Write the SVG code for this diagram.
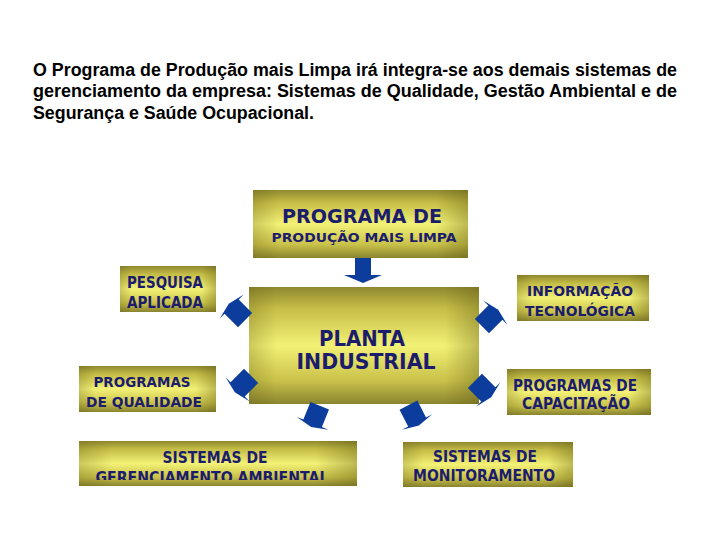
<svg xmlns="http://www.w3.org/2000/svg" width="720" height="540" viewBox="0 0 720 540">
<defs>
<linearGradient id="gv" x1="0" y1="0" x2="0" y2="1">
<stop offset="0" stop-color="#8f8830"/>
<stop offset="0.18" stop-color="#c4bd46"/>
<stop offset="0.5" stop-color="#f3f176"/>
<stop offset="0.8" stop-color="#c9c24a"/>
<stop offset="1" stop-color="#8a8430"/>
</linearGradient>
<linearGradient id="gh" x1="0" y1="0" x2="1" y2="0">
<stop offset="0" stop-color="#5a5410" stop-opacity="0.25"/>
<stop offset="0.12" stop-color="#5a5410" stop-opacity="0"/>
<stop offset="0.85" stop-color="#5a5410" stop-opacity="0"/>
<stop offset="1" stop-color="#5a5410" stop-opacity="0.35"/>
</linearGradient>
<path id="arr" d="M-10,-10 L10,-10 L10,9 L17,9 L0,13 L-17,9 L-10,9 Z"/>
<clipPath id="clipAmb"><rect x="79" y="441" width="278" height="39"/></clipPath>
</defs>
<style>
.box{fill:url(#gv)}
.shade{fill:url(#gh)}
.lbl{font-family:"DejaVu Sans",Verdana,sans-serif;font-weight:bold;fill:#1c1c6c;text-anchor:middle}
.title{font-family:"Liberation Sans",Arial,sans-serif;font-weight:bold;font-size:18px;fill:#000}
.ar{fill:#0c3d9c}
</style>
<rect width="720" height="540" fill="#ffffff"/>
<g id="intro">
<text class="title" x="33" y="76" textLength="644" lengthAdjust="spacingAndGlyphs">O Programa de Produção mais Limpa irá integra-se aos demais sistemas de</text>
<text class="title" x="33" y="97" textLength="644" lengthAdjust="spacingAndGlyphs">gerenciamento da empresa: Sistemas de Qualidade, Gestão Ambiental e de</text>
<text class="title" x="33" y="119" textLength="281" lengthAdjust="spacingAndGlyphs">Segurança e Saúde Ocupacional.</text>
</g>
<g id="programa">
<rect class="box" x="253" y="190" width="215" height="68"/>
<rect class="shade" x="253" y="190" width="215" height="68"/>
<text class="lbl" x="362" y="223" font-size="20" textLength="160" lengthAdjust="spacingAndGlyphs">PROGRAMA DE</text>
<text class="lbl" x="364" y="242" font-size="13" textLength="185" lengthAdjust="spacingAndGlyphs">PRODUÇÃO MAIS LIMPA</text>
</g>
<g id="planta">
<rect class="box" x="249" y="287" width="230" height="117"/>
<rect class="shade" x="249" y="287" width="230" height="117"/>
<text class="lbl" x="362" y="346" font-size="21" textLength="86" lengthAdjust="spacingAndGlyphs">PLANTA</text>
<text class="lbl" x="366" y="369" font-size="21" textLength="139" lengthAdjust="spacingAndGlyphs">INDUSTRIAL</text>
</g>
<g id="pesquisa">
<rect class="box" x="120" y="266" width="96" height="46"/>
<rect class="shade" x="120" y="266" width="96" height="46"/>
<text class="lbl" x="165" y="288" font-size="15" textLength="76" lengthAdjust="spacingAndGlyphs">PESQUISA</text>
<text class="lbl" x="165" y="308" font-size="15" textLength="76" lengthAdjust="spacingAndGlyphs">APLICADA</text>
</g>
<g id="qualidade">
<rect class="box" x="79" y="366" width="137" height="46"/>
<rect class="shade" x="79" y="366" width="137" height="46"/>
<text class="lbl" x="142" y="387" font-size="14" textLength="97" lengthAdjust="spacingAndGlyphs">PROGRAMAS</text>
<text class="lbl" x="144" y="407" font-size="14" textLength="116" lengthAdjust="spacingAndGlyphs">DE QUALIDADE</text>
</g>
<g id="informacao">
<rect class="box" x="517" y="275" width="132" height="46"/>
<rect class="shade" x="517" y="275" width="132" height="46"/>
<text class="lbl" x="580" y="296" font-size="14" textLength="106" lengthAdjust="spacingAndGlyphs">INFORMAÇÃO</text>
<text class="lbl" x="580" y="316" font-size="14" textLength="110" lengthAdjust="spacingAndGlyphs">TECNOLÓGICA</text>
</g>
<g id="capacitacao">
<rect class="box" x="507" y="369" width="144" height="46"/>
<rect class="shade" x="507" y="369" width="144" height="46"/>
<text class="lbl" x="575" y="391" font-size="15" textLength="124" lengthAdjust="spacingAndGlyphs">PROGRAMAS DE</text>
<text class="lbl" x="576" y="409" font-size="15" textLength="108" lengthAdjust="spacingAndGlyphs">CAPACITAÇÃO</text>
</g>
<g id="ambiental">
<rect class="box" x="79" y="441" width="278" height="45"/>
<rect class="shade" x="79" y="441" width="278" height="45"/>
<text class="lbl" x="215" y="463" font-size="15" textLength="105" lengthAdjust="spacingAndGlyphs">SISTEMAS DE</text>
<text class="lbl" x="212" y="483" font-size="15" textLength="233" lengthAdjust="spacingAndGlyphs" clip-path="url(#clipAmb)">GERENCIAMENTO AMBIENTAL</text>
</g>
<g id="monitoramento">
<rect class="box" x="403" y="442" width="170" height="45"/>
<rect class="shade" x="403" y="442" width="170" height="45"/>
<text class="lbl" x="485" y="462" font-size="15" textLength="104" lengthAdjust="spacingAndGlyphs">SISTEMAS DE</text>
<text class="lbl" x="484" y="481" font-size="15" textLength="142" lengthAdjust="spacingAndGlyphs">MONITORAMENTO</text>
</g>
<g id="connectors">
<path class="ar" d="M355,258 H371 V275 H382 L363,283 L344,275 H355 Z"/>
<use class="ar" href="#arr" transform="translate(238,313) rotate(135)"/>
<use class="ar" href="#arr" transform="translate(244,383) rotate(45)"/>
<use class="ar" href="#arr" transform="translate(489,319) rotate(-135)"/>
<use class="ar" href="#arr" transform="translate(482,388) rotate(-45)"/>
<use class="ar" href="#arr" transform="translate(316,415) rotate(22)"/>
<use class="ar" href="#arr" transform="translate(413,414) rotate(-27)"/>
</g>
</svg>
